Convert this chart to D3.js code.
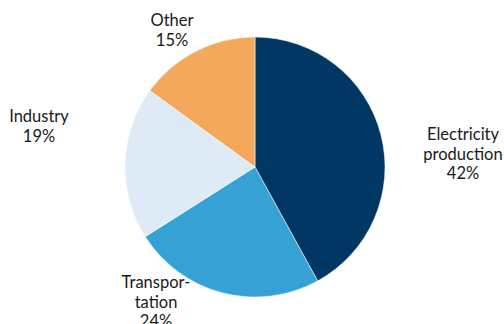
<!DOCTYPE html>
<html><head><meta charset="utf-8">
<script src="https://cdn.jsdelivr.net/npm/d3@7"></script>
<style>html,body{margin:0;padding:0;background:#fff;}svg{display:block;}</style>
</head><body>
<svg id="chart" width="504" height="324"></svg>
<script>
const categories = ["Electricity production", "Transportation", "Industry", "Other"];
const values = [42, 24, 19, 15];
const labelLines = [["Electricity", "production", "42%"], ["Transpor-", "tation", "24%"], ["Industry", "19%"], ["Other", "15%"]];
const colors = ["#003764", "#35a1d4", "#deebf7", "#f4a85c"];

// layout
const cx = 255, cy = 167, R = 130;
const labelAnchors = [[463, 140], [156, 288], [39, 122], [172, 26]];
const lineH = 19.5;

const svg = d3.select("#chart");
const pie = d3.pie().sort(null).value(d => d)(values);
const arc = d3.arc().innerRadius(0).outerRadius(R);
const g = svg.append("g").attr("transform", `translate(${cx},${cy})`);
g.selectAll("path").data(pie).join("path")
  .attr("d", arc).attr("fill", (d, i) => colors[i])
  .attr("stroke", "#fff").attr("stroke-width", 0.5);

const lab = svg.append("g").attr("font-family", "Lato, sans-serif").attr("font-size", 16.5).attr("fill", "#1a1a1a");
labelLines.forEach((lines, i) => {
  const t = lab.append("text").attr("text-anchor", "middle");
  lines.forEach((l, j) => {
    t.append("tspan").attr("x", labelAnchors[i][0]).attr("y", labelAnchors[i][1] + j * lineH).text(l);
  });
});
</script>
</body></html>
